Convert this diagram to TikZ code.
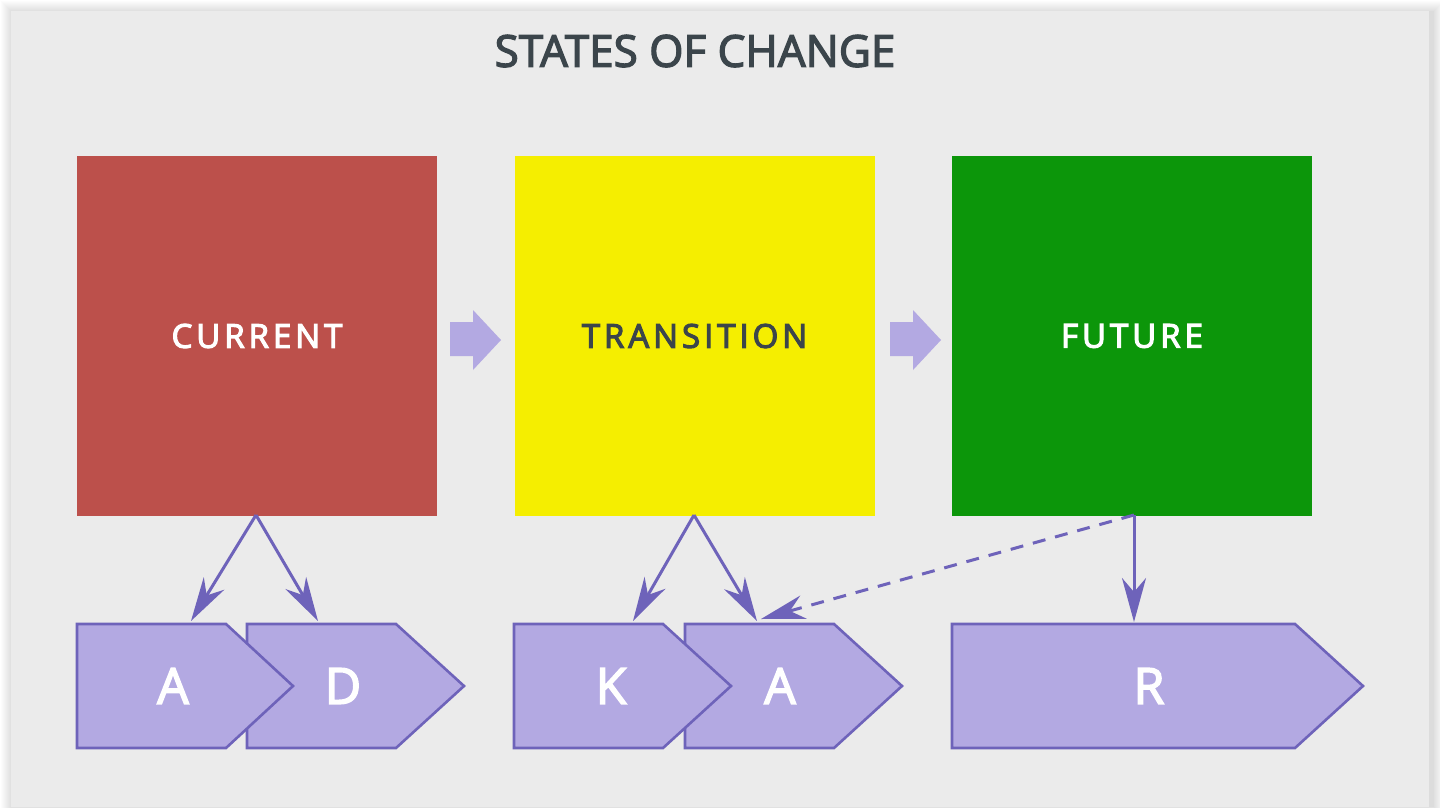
\documentclass[tikz,border=0pt]{standalone}
\usepackage{fontspec}
\setmainfont{Open Sans}
\newfontfamily\boldish{Open Sans}[FakeBold=3]
\newfontfamily\boxfont{Open Sans}[LetterSpace=12,FakeBold=3.5]
\usetikzlibrary{arrows.meta}
\definecolor{panel}{HTML}{EBEBEB}
\definecolor{edgegrey}{HTML}{DCDCDC}
\definecolor{curred}{HTML}{BC504B}
\definecolor{transyellow}{HTML}{F5EE00}
\definecolor{futgreen}{HTML}{0C960A}
\definecolor{pfill}{HTML}{B3A9E2}
\definecolor{pline}{HTML}{6E63BA}
\definecolor{titlegrey}{HTML}{3B454B}
\tikzset{
  statebox/.style={rectangle, minimum width=360pt, minimum height=360pt, inner sep=0pt, font=\fontsize{33}{36}\boxfont},
  pentashape/.style={fill=pfill, draw=pline, line width=2.6pt, line join=miter},
  plabel/.style={inner sep=0pt, text=white, font=\fontsize{50}{58}\boldish},
  fatarrow/.style={fill=pfill},
  link/.style={draw=pline, line width=3pt, -{Stealth[length=44pt, width=24pt, inset=14pt]}},
  dashlink/.style={link, dash pattern=on 13pt off 10pt}
}
\begin{document}
\begin{tikzpicture}[x=1pt,y=-1pt]
\useasboundingbox (0,0) rectangle (1440,807);
\fill[white] (0,0) rectangle (1440,807);
\foreach \i in {1,...,10}{
  \fill[black,opacity=0.012] (11-\i,11-\i) rectangle (1434+\i,820);
}
\fill[panel] (11,11) rectangle (1429,807);
\fill[edgegrey] (1429,11) rectangle (1434,807);

\node[inner sep=0pt, text=titlegrey, font=\fontsize{44}{52}\boldish] (title) at (695,51) {STATES OF CHANGE};

\node[statebox, fill=curred, text=white] (cur) at (257,336) {CURRENT};
\node[statebox, fill=transyellow, text=titlegrey] (tra) at (694.5,336) {TRANSITION};
\node[statebox, fill=futgreen, text=white] (fut) at (1132,336) {FUTURE};

\fill[fatarrow] (450,322) -- (473,322) -- (473,310) -- (501,340) -- (473,370) -- (473,356) -- (450,356) -- cycle;
\fill[fatarrow] (890,322) -- (913,322) -- (913,310) -- (941,340) -- (913,370) -- (913,356) -- (890,356) -- cycle;

% pentagons (right one first, left one on top)
\draw[pentashape] (247,624) -- (396,624) -- (464,686) -- (396,748) -- (247,748) -- cycle;
\draw[pentashape] (77,624) -- (226,624) -- (293,686) -- (226,748) -- (77,748) -- cycle;
\draw[pentashape] (685,624) -- (834,624) -- (902,686) -- (834,748) -- (685,748) -- cycle;
\draw[pentashape] (514,624) -- (663,624) -- (731,686) -- (663,748) -- (514,748) -- cycle;
\draw[pentashape] (952,624) -- (1295,624) -- (1363,686) -- (1295,748) -- (952,748) -- cycle;

\node[plabel] (la) at (173,686) {A};
\node[plabel] (ld) at (343,686) {D};
\node[plabel] (lk) at (611,686) {K};
\node[plabel] (la2) at (780,686) {A};
\node[plabel] (lr) at (1149,686) {R};

\coordinate (curB) at (256,515);
\coordinate (traB) at (694,515);
\coordinate (futB) at (1134,515);
\coordinate (aT) at (191,621);
\coordinate (dT) at (318,621);
\coordinate (kT) at (633,621);
\coordinate (a2T) at (757,621);
\coordinate (a2Td) at (761,619);
\coordinate (rT) at (1134,622);

\draw[link] (curB) -- (aT);
\draw[link] (curB) -- (dT);
\draw[link] (traB) -- (kT);
\draw[link] (traB) -- (a2T);
\draw[link] (futB) -- (rT);
\draw[dashlink] (futB) -- (a2Td);
\end{tikzpicture}
\end{document}
